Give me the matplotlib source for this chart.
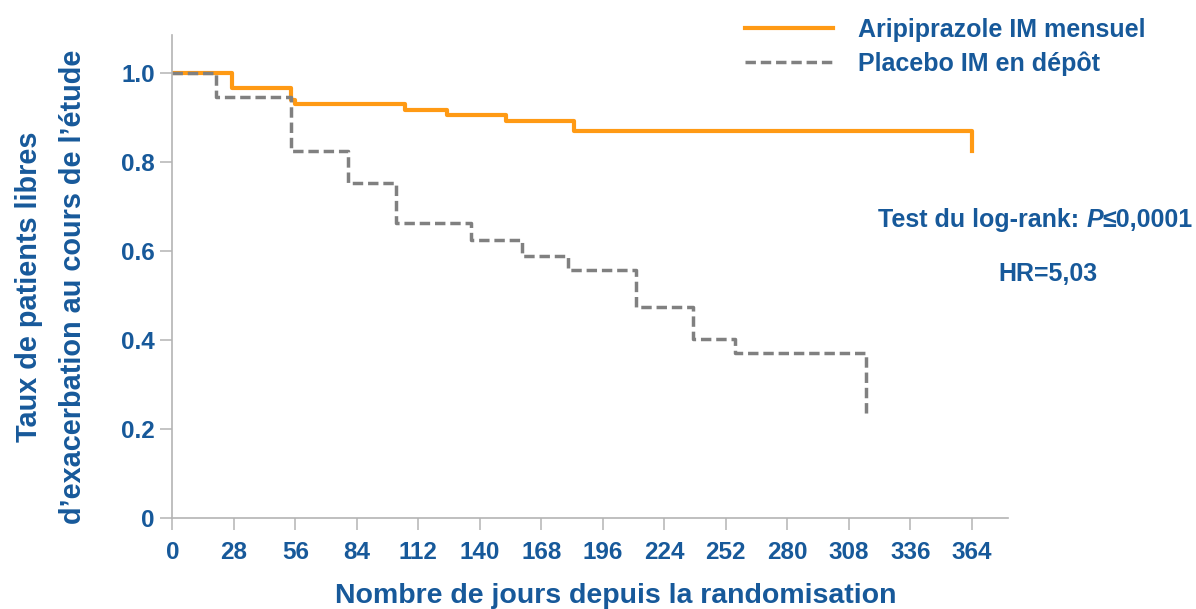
import matplotlib
matplotlib.use("Agg")
import matplotlib.pyplot as plt

# Kaplan-Meier estimates (days, survival)
ari_days = [0, 27, 54, 56, 106, 125, 152, 183, 364]
ari_surv = [1.0, 0.966, 0.940, 0.930, 0.917, 0.906, 0.893, 0.869, 0.825]

pla_days = [0, 20, 54, 80, 102, 136, 159, 180, 211, 237, 256, 316]
pla_surv = [1.0, 0.946, 0.825, 0.752, 0.663, 0.625, 0.589, 0.557, 0.475, 0.402, 0.370, 0.231]

x_ticks = [0, 28, 56, 84, 112, 140, 168, 196, 224, 252, 280, 308, 336, 364]
y_ticks = [0, 0.2, 0.4, 0.6, 0.8, 1.0]
y_tick_labels = ["0", "0.2", "0.4", "0.6", "0.8", "1.0"]

series_labels = ["Aripiprazole IM mensuel", "Placebo IM en dépôt"]
ylabel = "Taux de patients libres\nd\u2019exacerbation au cours de l\u2019étude"
xlabel = "Nombre de jours depuis la randomisation"

BLUE = "#17599a"
ORANGE = "#ff9a14"
GREY = "#808080"
AXIS_GREY = "#b4b4b4"

plt.rcParams["font.family"] = ["Liberation Sans", "DejaVu Sans"]
plt.rcParams["font.weight"] = "bold"

W, H = 1196, 609
fig = plt.figure(figsize=(W / 100, H / 100), dpi=100)
ax = fig.add_axes([172.3 / W, 1 - 518.3 / H, (1008 - 172.3) / W, (518.3 - 35) / H])

ax.step(ari_days, ari_surv, where="post", color=ORANGE, lw=3.0,
        label=series_labels[0])
ax.step(pla_days, pla_surv, where="post", color=GREY, lw=2.5,
        linestyle=(0, (3.0, 1.4)), label=series_labels[1])

ax.set_xlim(0, 380.5)
ax.set_ylim(0, 1.085)
ax.set_xticks(x_ticks)
ax.set_xticklabels([str(t) for t in x_ticks])
ax.set_yticks(y_ticks)
ax.set_yticklabels(y_tick_labels)

for side in ["top", "right"]:
    ax.spines[side].set_visible(False)
for side in ["left", "bottom"]:
    ax.spines[side].set_color(AXIS_GREY)
    ax.spines[side].set_linewidth(1.2)

ax.tick_params(axis="both", direction="out", length=8.5, width=1.1,
               color=AXIS_GREY, labelcolor=BLUE, labelsize=17.5)
ax.tick_params(axis="x", pad=8)
ax.tick_params(axis="y", pad=4)
for lbl in ax.get_xticklabels() + ax.get_yticklabels():
    lbl.set_fontweight("bold")

# axis titles
fig.text(51 / W, 1 - 287 / H, ylabel, rotation=90, ha="center", va="center",
         color=BLUE, fontsize=20.8, fontweight="bold", linespacing=1.75,
         multialignment="center")
fig.text(616 / W, 1 - 596 / H, xlabel, ha="center", va="center",
         color=BLUE, fontsize=20.5, fontweight="bold")

# legend in the top right corner
leg = fig.legend(loc="upper left", bbox_to_anchor=(745 / W, 1 - 18 / H),
                 frameon=False, fontsize=18, handlelength=3.5,
                 handletextpad=1.0, labelspacing=0.38, borderpad=0,
                 borderaxespad=0)
for t in leg.get_texts():
    t.set_color(BLUE)
    t.set_fontweight("bold")

# log-rank annotation, P in italics
t1 = fig.text(878 / W, 1 - 220 / H, "Test du log-rank: ", ha="left",
              va="center", color=BLUE, fontsize=18, fontweight="bold")
t2 = ax.annotate("P", xy=(1, 0), xycoords=t1, ha="left", va="bottom",
                 color=BLUE, fontsize=18, fontweight="bold", style="italic")
ax.annotate("\u22640,0001", xy=(1, 0), xycoords=t2, ha="left", va="bottom",
            color=BLUE, fontsize=18, fontweight="bold")
fig.text(1048 / W, 1 - 274 / H, "HR=5,03", ha="center", va="center",
         color=BLUE, fontsize=18, fontweight="bold")

fig.savefig("out.png", dpi=100)
